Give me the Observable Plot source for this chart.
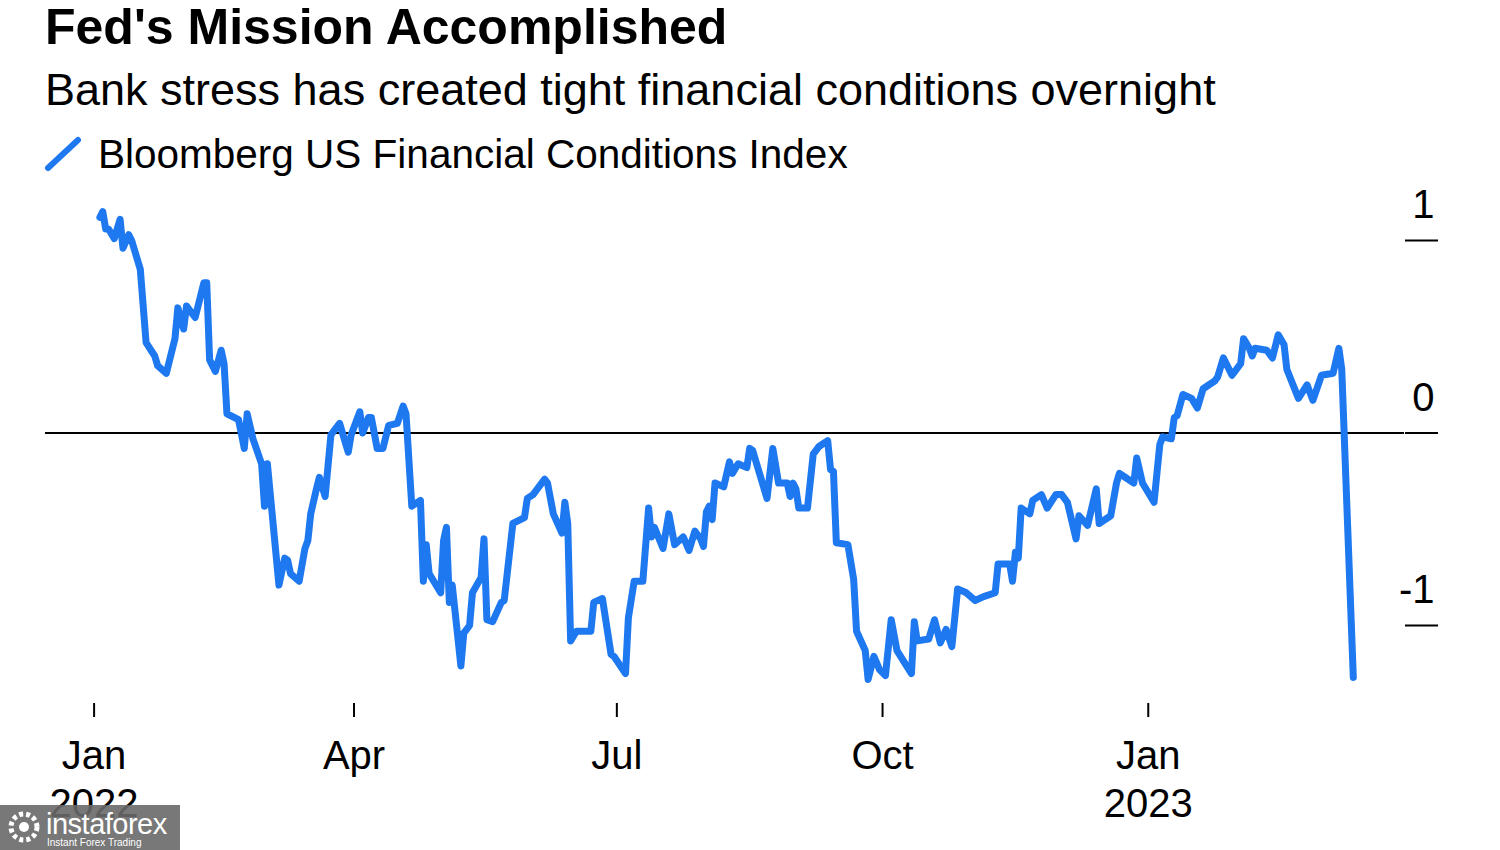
<!DOCTYPE html>
<html>
<head>
<meta charset="utf-8">
<script src="https://cdn.jsdelivr.net/npm/d3@7"></script>
<script src="https://cdn.jsdelivr.net/npm/@observablehq/plot@0.6"></script>
<style>
  html, body { margin: 0; padding: 0; background: #fff; }
  #wrap { position: relative; width: 1500px; height: 850px; overflow: hidden; background: #fff;
          font-family: "Liberation Sans", Arial, Helvetica, sans-serif; color: #000; }
  .t { position: absolute; white-space: nowrap; line-height: 1; }
  #title { left: 45px; top: 2px; font-size: 50px; font-weight: bold; }
  #subtitle { left: 45px; top: 67px; font-size: 45px; }
  #legend { left: 98px; top: 134px; font-size: 40.5px; }
  #legicon { position: absolute; left: 44px; top: 136px; }
  #chart { position: absolute; left: 0; top: 180px; }
  #wm { position: absolute; left: 0; top: 805px; width: 180px; height: 45px; background: rgba(105,105,105,0.9); color: #fff; }
  #wm .a { position: absolute; left: 46px; top: 5px; font-size: 29px; line-height: 1; letter-spacing: -0.5px; }
  #wm .b { position: absolute; left: 47px; top: 33px; font-size: 10px; line-height: 1; }
</style>
</head>
<body>
<div id="wrap">
  <div class="t" id="title">Fed's Mission Accomplished</div>
  <div class="t" id="subtitle">Bank stress has created tight financial conditions overnight</div>
  <svg id="legicon" width="40" height="40"><line x1="4" y1="32" x2="34" y2="4" stroke="#1e78f0" stroke-width="6" stroke-linecap="round"/></svg>
  <div class="t" id="legend">Bloomberg US Financial Conditions Index</div>
  <div id="chart"></div>
  <div id="wm">
    <svg width="44" height="45" style="position:absolute;left:4px;top:0"><circle cx="20" cy="22" r="13" fill="none" stroke="#fff" stroke-width="5" stroke-dasharray="4 3"/><circle cx="20" cy="22" r="5" fill="#fff"/></svg>
    <div class="a">instaforex</div>
    <div class="b">Instant Forex Trading</div>
  </div>
</div>
<script>
const dates = [
"2022-01-03","2022-01-04","2022-01-05","2022-01-06","2022-01-08","2022-01-10","2022-01-11","2022-01-13","2022-01-14","2022-01-17","2022-01-19","2022-01-22","2022-01-23","2022-01-26","2022-01-29","2022-01-30",
"2022-02-01","2022-02-02","2022-02-03","2022-02-05","2022-02-08","2022-02-09","2022-02-10","2022-02-12","2022-02-14","2022-02-15","2022-02-16","2022-02-20","2022-02-22","2022-02-23","2022-02-25","2022-02-28",
"2022-03-01","2022-03-02","2022-03-06",
"2022-03-08","2022-03-09","2022-03-10","2022-03-13","2022-03-15","2022-03-16","2022-03-17","2022-03-19","2022-03-20","2022-03-22","2022-03-24","2022-03-27","2022-03-30","2022-03-31",
"2022-04-03","2022-04-04","2022-04-06","2022-04-07","2022-04-09","2022-04-11","2022-04-13","2022-04-16","2022-04-18","2022-04-19","2022-04-21","2022-04-24","2022-04-25",
"2022-04-26","2022-04-27",
"2022-05-01","2022-05-02","2022-05-03","2022-05-04","2022-05-05","2022-05-08","2022-05-09","2022-05-11","2022-05-12","2022-05-15","2022-05-16","2022-05-17","2022-05-19","2022-05-22","2022-05-23","2022-05-26","2022-05-30","2022-05-31",
"2022-06-02","2022-06-06","2022-06-07","2022-06-09","2022-06-12","2022-06-13","2022-06-14","2022-06-15","2022-06-17","2022-06-22","2022-06-23","2022-06-26","2022-06-29","2022-06-30",
"2022-07-04",
"2022-07-05","2022-07-07","2022-07-10","2022-07-12","2022-07-13","2022-07-14","2022-07-17","2022-07-19","2022-07-21","2022-07-24","2022-07-26","2022-07-28","2022-07-30","2022-07-31",
"2022-08-01","2022-08-02","2022-08-03","2022-08-04","2022-08-07","2022-08-09","2022-08-10","2022-08-12","2022-08-15","2022-08-16","2022-08-17","2022-08-22","2022-08-24","2022-08-26","2022-08-29","2022-08-30","2022-08-31",
"2022-09-01","2022-09-02","2022-09-05","2022-09-07","2022-09-09","2022-09-12","2022-09-13","2022-09-14","2022-09-15","2022-09-19",
"2022-09-21","2022-09-22","2022-09-25","2022-09-26","2022-09-28","2022-09-30",
"2022-10-02","2022-10-04","2022-10-06","2022-10-11","2022-10-12","2022-10-13","2022-10-17","2022-10-19","2022-10-21","2022-10-23","2022-10-25","2022-10-27","2022-10-30",
"2022-11-02","2022-11-05","2022-11-09","2022-11-10","2022-11-14","2022-11-15","2022-11-16","2022-11-17","2022-11-18",
"2022-11-21","2022-11-22","2022-11-25","2022-11-27","2022-11-30",
"2022-12-02","2022-12-04","2022-12-07","2022-12-08","2022-12-11","2022-12-14","2022-12-15","2022-12-19","2022-12-21","2022-12-22","2022-12-24","2022-12-27","2022-12-28","2022-12-30",
"2023-01-03","2023-01-05","2023-01-06","2023-01-09","2023-01-10","2023-01-11","2023-01-13","2023-01-16","2023-01-18","2023-01-20","2023-01-24","2023-01-25","2023-01-27","2023-01-30",
"2023-02-02","2023-02-03","2023-02-05","2023-02-06","2023-02-07","2023-02-11","2023-02-13","2023-02-15","2023-02-17","2023-02-18","2023-02-22","2023-02-25","2023-02-27",
"2023-03-02","2023-03-06","2023-03-08","2023-03-09","2023-03-13"
];
const values = [
1.12,1.15,1.06,1.06,1.01,1.11,0.96,1.03,1.00,0.85,0.47,0.40,0.35,0.31,0.49,0.65,
0.54,0.66,0.64,0.60,0.78,0.78,0.38,0.32,0.43,0.36,0.10,0.07,-0.08,0.10,-0.03,-0.16,
-0.38,-0.16,-0.79,
-0.65,-0.66,-0.73,-0.77,-0.60,-0.56,-0.42,-0.29,-0.23,-0.33,-0.01,0.05,-0.10,-0.01,
0.11,0.00,0.08,0.08,-0.08,-0.08,0.04,0.05,0.14,0.10,-0.38,-0.35,-0.77,
-0.58,-0.73,
-0.83,-0.56,-0.49,-0.88,-0.79,-1.21,-1.04,-1.00,-0.83,-0.75,-0.55,-0.97,-0.98,-0.88,-0.87,-0.47,-0.44,-0.34,
-0.32,-0.24,-0.26,-0.42,-0.52,-0.36,-0.47,-1.08,-1.03,-1.03,-0.88,-0.86,-1.15,-1.16,
-1.25,
-0.96,-0.77,-0.77,-0.39,-0.54,-0.49,-0.60,-0.42,-0.58,-0.54,-0.61,-0.51,-0.55,-0.59,
-0.41,-0.38,-0.45,-0.26,-0.28,-0.15,-0.21,-0.16,-0.18,-0.08,-0.09,-0.34,-0.08,-0.26,-0.26,-0.33,-0.26,
-0.29,-0.39,-0.39,-0.11,-0.07,-0.04,-0.19,-0.20,-0.57,-0.58,
-0.76,-1.03,-1.13,-1.28,-1.16,-1.23,
-1.26,-0.97,-1.13,-1.25,-0.98,-1.08,-1.07,-0.97,-1.09,-1.02,-1.11,-0.81,-0.83,
-0.87,-0.85,-0.83,-0.68,-0.68,-0.77,-0.62,-0.65,-0.39,
-0.42,-0.35,-0.32,-0.39,-0.32,
-0.32,-0.36,-0.55,-0.43,-0.48,-0.29,-0.47,-0.43,-0.26,-0.21,-0.23,-0.26,-0.13,-0.26,
-0.36,-0.06,-0.02,-0.03,0.08,0.09,0.20,0.18,0.13,0.23,0.27,0.29,0.39,0.30,
0.36,0.49,0.44,0.40,0.44,0.43,0.39,0.51,0.46,0.33,0.18,0.25,0.17,
0.30,0.31,0.44,0.33,-1.27
];
const monthTicks = ["2022-01-01","2022-04-01","2022-07-01","2022-10-01","2023-01-01"];
const yearTicks = ["2022-01-01","2023-01-01"];
const yTicks = [-1, 0, 1];

const data = dates.map((d, i) => ({date: new Date(d), value: values[i]}));

const chart = Plot.plot({
  width: 1500,
  height: 670,
  marginLeft: 45,
  marginRight: 96,
  marginTop: 20,
  marginBottom: 147,
  style: {fontFamily: "'Liberation Sans', Arial, Helvetica, sans-serif", fontSize: "40px", color: "#000", background: "white", overflow: "visible"},
  x: {type: "utc", domain: [new Date("2022-01-01"), new Date("2023-03-14")], range: [93.6, 1355.7]},
  y: {domain: [-1, 1], range: [445, 60]},
  marks: [
    Plot.ruleY([0], {stroke: "#000", strokeWidth: 2}),
    Plot.axisY(yTicks, {anchor: "right", tickSize: 33, tickPadding: 0, stroke: "#000", strokeWidth: 2, label: null, tickFormat: () => ""}),
    Plot.axisY(yTicks, {anchor: "right", tickSize: 0, tickPadding: 33, textAnchor: "end", dx: -3, dy: -35, fontSize: 40, label: null, tickFormat: d => String(d)}),
    Plot.axisX(monthTicks.map(d => new Date(d)), {anchor: "bottom", tickSize: 14, tickPadding: 23, stroke: "#000", strokeWidth: 2, fontSize: 40, label: null, tickFormat: d3.utcFormat("%b")}),
    Plot.axisX(yearTicks.map(d => new Date(d)), {anchor: "bottom", tickSize: 0, tickPadding: 85, fontSize: 40, label: null, tickFormat: d3.utcFormat("%Y")}),
    Plot.lineY(data, {x: "date", y: "value", stroke: "#1e78f0", strokeWidth: 7, strokeLinejoin: "round", strokeLinecap: "round"})
  ]
});
document.getElementById("chart").appendChild(chart);
</script>
</body>
</html>
